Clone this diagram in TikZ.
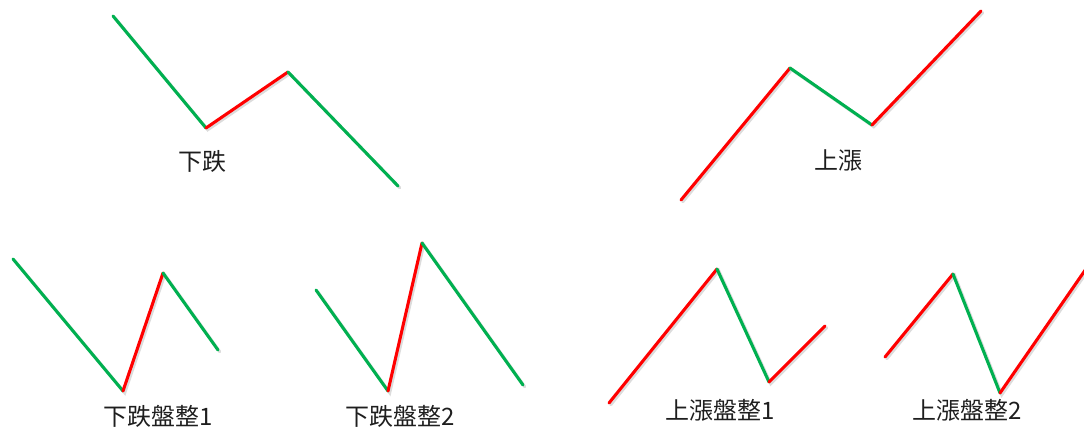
\documentclass[tikz,border=0pt]{standalone}
\usepackage{fontspec}
\newfontfamily\cjk{Noto Sans CJK TC}
\usetikzlibrary{positioning}
\definecolor{upred}{RGB}{255,0,0}
\definecolor{downgreen}{RGB}{0,176,80}
\definecolor{shadowgray}{RGB}{220,220,220}
\definecolor{captext}{RGB}{30,30,30}
\tikzset{
  uplegs/.style={draw=upred, line width=2.3pt, line cap=round},
  downlegs/.style={draw=downgreen, line width=2.3pt, line cap=round},
  legshadow/.style={draw=shadowgray, line width=2.3pt, line cap=round},
  shoff/.style={xshift=1.3pt, yshift=-1.3pt},
  caption/.style={font=\cjk\fontsize{18}{20}\selectfont, text=captext, inner sep=0pt}
}
\begin{document}
\begin{tikzpicture}[x=0.75pt, y=-0.75pt]
  \useasboundingbox (0,0) rectangle (1084,428);
  % falling
  \coordinate (d1) at (113,16);
  \coordinate (d2) at (206,128);
  \coordinate (d3) at (288,72);
  \coordinate (d4) at (398,186);
  % rising
  \coordinate (u1) at (681,200);
  \coordinate (u2) at (790,68);
  \coordinate (u3) at (872,125);
  \coordinate (u4) at (981,11);
  % falling consolidation 1
  \coordinate (da1) at (13,259);
  \coordinate (da2) at (123,391);
  \coordinate (da3) at (163,273);
  \coordinate (da4) at (218,350);
  % falling consolidation 2
  \coordinate (db1) at (316,290);
  \coordinate (db2) at (388,391);
  \coordinate (db3) at (422,243);
  \coordinate (db4) at (523,385);
  % rising consolidation 1
  \coordinate (ua1) at (609,403);
  \coordinate (ua2) at (717,269);
  \coordinate (ua3) at (769,382);
  \coordinate (ua4) at (825,326);
  % rising consolidation 2
  \coordinate (ub1) at (885,357);
  \coordinate (ub2) at (953,274);
  \coordinate (ub3) at (1000,393);
  \coordinate (ub4) at (1088,266);

  \foreach \p in {d,u,da,db,ua,ub}
    \draw[legshadow] ([shoff]\p1) -- ([shoff]\p2) -- ([shoff]\p3) -- ([shoff]\p4);

  \draw[downlegs] (d1) -- (d2);
  \draw[uplegs] (d2) -- (d3);
  \draw[downlegs] (d3) -- (d4);
  \draw[uplegs] (u1) -- (u2);
  \draw[downlegs] (u2) -- (u3);
  \draw[uplegs] (u3) -- (u4);
  \draw[downlegs] (da1) -- (da2);
  \draw[uplegs] (da2) -- (da3);
  \draw[downlegs] (da3) -- (da4);
  \draw[downlegs] (db1) -- (db2);
  \draw[uplegs] (db2) -- (db3);
  \draw[downlegs] (db3) -- (db4);
  \draw[uplegs] (ua1) -- (ua2);
  \draw[downlegs] (ua2) -- (ua3);
  \draw[uplegs] (ua3) -- (ua4);
  \draw[uplegs] (ub1) -- (ub2);
  \draw[downlegs] (ub2) -- (ub3);
  \draw[uplegs] (ub3) -- (ub4);

  \node[caption] (capd) at (202,161) {下跌};
  \node[caption] (capu) at (838,161) {上漲};
  \node[caption] (capda) at (158,416) {下跌盤整1};
  \node[caption] (capdb) at (400,416) {下跌盤整2};
  \node[caption] (capua) at (720,410) {上漲盤整1};
  \node[caption] (capub) at (967,410) {上漲盤整2};
\end{tikzpicture}
\end{document}
